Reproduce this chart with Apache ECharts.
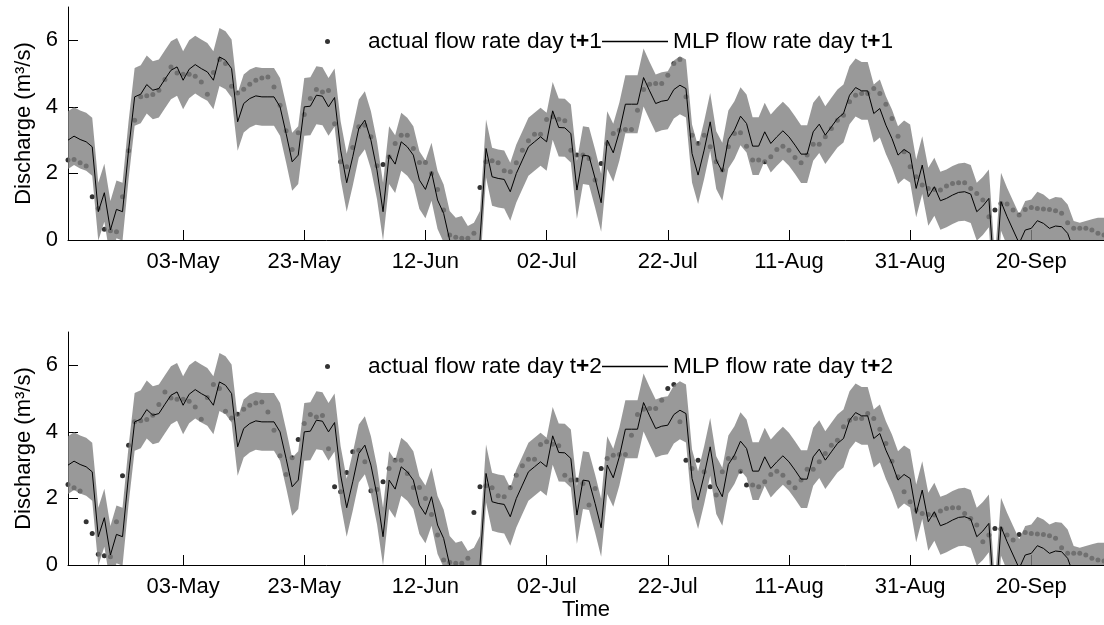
<!DOCTYPE html>
<html><head><meta charset="utf-8">
<script src="https://cdn.jsdelivr.net/npm/echarts@6/dist/echarts.min.js"></script>
<style>html,body{margin:0;padding:0;background:#fff}#c{width:1104px;height:625px}</style>
</head><body><div id="c"></div>
<script>
// x = day index, day 0 = 14-Apr
const tickDays = [19, 39, 59, 79, 99, 119, 139, 159];
const tickLabels = ['03-May', '23-May', '12-Jun', '02-Jul', '22-Jul', '11-Aug', '31-Aug', '20-Sep'];
const yTicks = [0, 2, 4, 6];
const panelNames = ['t+1', 't+2'];

// MLP predicted discharge (m3/s)
const mlpFlow = [
 3.0,3.12,3.02,2.95,2.8,0.85,1.42,0.3,0.92,0.85,
 2.7,4.3,4.38,4.67,4.5,4.55,4.83,5.1,5.2,4.8,
 5.13,5.27,5.15,5.05,4.8,5.5,5.4,5.15,3.55,4.1,
 4.25,4.33,4.3,4.3,4.3,4.0,3.2,2.35,2.55,4.0,
 4.02,4.35,4.32,4.0,4.28,2.7,1.72,2.5,3.35,3.6,
 3.0,2.1,0.85,2.55,2.28,2.95,2.8,2.55,1.8,1.52,
 2.05,1.2,0.8,0.0,-0.2,-0.15,-0.45,-0.35,0.0,2.75,
 1.9,1.85,1.82,1.45,2.0,2.4,2.8,2.95,3.1,2.95,
 3.88,3.38,3.37,3.2,1.5,2.55,2.52,1.85,1.12,3.0,
 2.62,3.25,4.08,4.08,4.08,4.88,4.48,4.1,4.17,4.2,
 4.52,4.65,4.55,2.6,1.95,2.7,3.55,2.4,2.05,3.02,
 3.3,3.72,3.5,2.82,2.82,3.25,2.9,3.1,3.28,3.1,
 2.85,2.58,2.58,3.25,3.48,3.15,3.4,3.65,3.8,4.35,
 4.58,4.48,4.48,3.8,3.95,3.45,3.05,2.55,2.72,2.6,
 1.55,2.25,1.3,1.6,1.18,1.25,1.35,1.43,1.45,1.38,
 0.85,1.02,1.25,-1.4,1.15,0.7,0.3,-0.1,0.3,0.35,
 0.58,0.5,0.35,0.42,0.4,0.2,-0.3,-0.35,-0.3,-0.25,
 -0.2,-0.2
];

// observed discharge, index 0 = flow on day t+1 of day 0
const actualFlow = [
 2.4,2.42,2.32,2.22,1.3,0.95,0.32,0.28,0.25,1.3,
 2.68,3.6,4.3,4.33,4.37,4.5,4.82,5.2,5.02,4.98,
 4.98,4.92,4.75,4.38,5.03,5.42,5.3,4.62,4.42,4.53,
 4.68,4.8,4.87,4.9,4.6,4.05,3.28,2.72,3.22,3.77,
 4.25,4.52,4.45,4.49,3.49,2.35,2.2,2.78,3.4,3.45,
 3.1,2.23,2.27,2.5,2.9,3.15,3.15,2.75,2.33,2.33,
 2.0,1.52,0.9,0.15,0.08,0.05,0.05,0.2,1.58,2.35,
 2.38,2.32,2.08,2.05,2.32,2.7,2.98,3.18,3.18,3.62,
 3.7,3.63,3.58,2.7,2.55,2.55,2.45,1.8,2.3,2.9,
 3.2,3.3,3.32,3.32,3.9,4.52,4.68,4.7,4.7,4.95,
 5.3,5.42,4.3,3.15,2.9,3.15,2.8,2.35,2.1,2.8,
 3.2,3.22,2.82,2.4,2.4,2.35,2.5,2.72,2.82,2.7,
 2.48,2.32,2.55,2.88,2.88,3.1,3.35,3.6,3.75,4.15,
 4.35,4.4,4.4,4.55,4.4,4.08,3.65,3.12,2.65,2.2,
 1.9,1.65,1.55,1.52,1.5,1.62,1.7,1.72,1.72,1.55,
 1.4,1.2,0.7,0.9,1.1,1.08,0.9,0.75,0.92,0.98,
 0.95,0.93,0.92,0.88,0.8,0.52,0.35,0.35,0.35,0.3,
 0.2,0.15,0.12
];
const bandHalfWidth = 0.87; // prediction interval half-width

const FONT = '"Liberation Sans", Arial, sans-serif';
const chart = echarts.init(document.getElementById('c'), null, {renderer: 'canvas'});

const grids = [], xAxes = [], yAxes = [], series = [], legends = [];
const gridTops = [7, 332];
const xs = mlpFlow.map((_, i) => i);
panelNames.forEach((pn, k) => {
  grids.push({left: 68, top: gridTops[k], width: 6.067 * 171, height: 233, containLabel: false});
  xAxes.push({
    type: 'value', gridIndex: k, min: 0, max: 171,
    name: k === 1 ? 'Time' : '', nameLocation: 'middle', nameGap: 32,
    nameTextStyle: {fontFamily: FONT, fontSize: 22, color: '#000'},
    axisLine: {lineStyle: {color: '#000', width: 1}},
    axisTick: {inside: true, length: 10, lineStyle: {color: '#000'}, customValues: tickDays},
    axisLabel: {customValues: tickDays, margin: 11, fontFamily: FONT, fontSize: 22, color: '#000',
      formatter: v => tickLabels[tickDays.indexOf(v)] || ''},
    splitLine: {show: false}
  });
  yAxes.push({
    type: 'value', gridIndex: k, min: 0, max: 7,
    name: 'Discharge (m³/s)', nameLocation: 'middle', nameRotate: 90, nameGap: 22,
    nameTextStyle: {fontFamily: FONT, fontSize: 22, color: '#000'},
    axisLine: {show: true, lineStyle: {color: '#000', width: 1}},
    axisTick: {show: true, inside: true, length: 10, lineStyle: {color: '#000'}, customValues: yTicks},
    axisLabel: {customValues: yTicks, margin: 10, fontFamily: FONT, fontSize: 22, color: '#000'},
    splitLine: {show: false}
  });
  const off = k; // t+1 -> index i, t+2 -> index i+1
  const actName = 'actual flow rate day ' + pn;
  const mlpName = 'MLP flow rate day ' + pn;
  series.push({
    name: actName, type: 'scatter', xAxisIndex: k, yAxisIndex: k, z: 1,
    symbol: 'circle', symbolSize: 5, itemStyle: {color: '#000'},
    data: xs.map(i => [i, actualFlow[i + off]]), silent: true
  });
  series.push({
    name: 'band ' + pn, type: 'custom', xAxisIndex: k, yAxisIndex: k, z: 2, silent: true,
    data: xs.map(i => [i, mlpFlow[i] - bandHalfWidth, mlpFlow[i] + bandHalfWidth]),
    encode: {x: 0, y: [1, 2]},
    renderItem: (params, api) => {
      if (params.dataIndex !== 0) return;
      const up = xs.map(i => api.coord([i, mlpFlow[i] + bandHalfWidth]));
      const lo = xs.map(i => api.coord([i, mlpFlow[i] - bandHalfWidth])).reverse();
      const cs = params.coordSys;
      return {
        type: 'polygon', shape: {points: up.concat(lo)},
        style: {fill: '#7f7f7f', opacity: 0.8},
        clipPath: {type: 'rect', shape: {x: cs.x, y: cs.y, width: cs.width, height: cs.height}}
      };
    }
  });
  series.push({
    name: mlpName, type: 'line', xAxisIndex: k, yAxisIndex: k, z: 3,
    symbol: 'none', lineStyle: {color: '#000', width: 1}, itemStyle: {color: '#000'},
    data: xs.map(i => [i, mlpFlow[i]]), silent: true
  });
  const legTop = gridTops[k] + 18;
  const LF = 22.7;
  const rich = {n: {fontFamily: FONT, fontSize: LF, color: '#000'}, b: {fontFamily: FONT, fontSize: LF, fontWeight: 'bold', color: '#000'}};
  const fmt = name => {
    const m = name.match(/^(.*t)\+(\d)$/);
    return '{n|' + m[1] + '}{b|+}{n|' + m[2] + '}';
  };
  legends.push({
    data: [{name: actName, icon: 'circle', itemStyle: {color: '#000'}}], left: 320, top: legTop, itemWidth: 5, itemHeight: 5,
    padding: 5, selectedMode: false, formatter: fmt, textStyle: {rich, padding: [0, 0, 0, 33]}
  });
  legends.push({
    data: [{name: mlpName, icon: 'rect', itemStyle: {color: '#000'}}], left: 597, top: legTop,
    itemWidth: 66, itemHeight: 1.3, itemGap: 0, padding: 5,
    selectedMode: false, formatter: fmt, textStyle: {rich}
  });
});

chart.setOption({
  animation: false,
  backgroundColor: '#fff',
  textStyle: {fontFamily: FONT},
  grid: grids, xAxis: xAxes, yAxis: yAxes, series, legend: legends
});
</script></body></html>
